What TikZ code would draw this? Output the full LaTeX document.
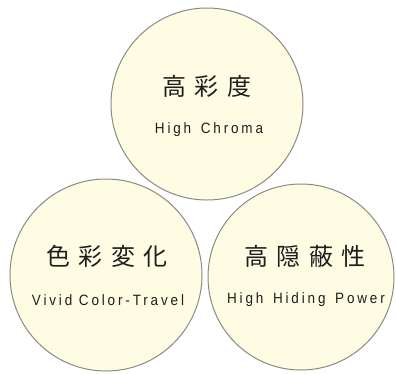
\documentclass[tikz,border=0pt]{standalone}
\usepackage{fontspec}
\setmainfont{Liberation Sans}
\newfontfamily\cjkfont{Noto Sans CJK JP}
\newfontfamily\latfont[LetterSpace=19,FakeStretch=0.9]{Liberation Sans}
\definecolor{fillc}{HTML}{FEFDE3}
\definecolor{edgec}{HTML}{8A8A82}
\definecolor{textc}{HTML}{1E1E1E}
\newcommand{\wsp}{\hspace{3pt} }
\newcommand{\csp}{\hspace{8.5pt}}
\begin{document}
\begin{tikzpicture}[x=1pt,y=-1pt,
  bubble/.style={circle, draw=edgec, fill=fillc, line width=1pt, inner sep=0pt},
  titletext/.style={font=\cjkfont\fontsize{24}{24}\selectfont, text=textc, inner sep=0pt},
  subtext/.style={font=\latfont\fontsize{15}{16}\selectfont, text=textc, inner sep=0pt}]
\useasboundingbox (0,0) rectangle (396,373);
\node[bubble, minimum size=192pt] (ctop) at (207,104) {};
\node[bubble, minimum size=192pt] (cleft) at (106,275) {};
\node[bubble, minimum size=186pt] (cright) at (301,277) {};
\node[titletext] (ttop) at (207,86) {高\csp 彩\csp 度};
\node[subtext] (stop) at (209,130) {High\wsp Chroma};
\node[titletext] (tleft) at (107,256) {色\csp 彩\csp 変\csp 化};
\node[subtext] (sleft) at (108,300) {Vivid Color-Travel};
\node[titletext] (tright) at (305,256) {高\csp 隠\csp 蔽\csp 性};
\node[subtext] (sright) at (306,300) {High\wsp Hiding\wsp Power};
\end{tikzpicture}
\end{document}
